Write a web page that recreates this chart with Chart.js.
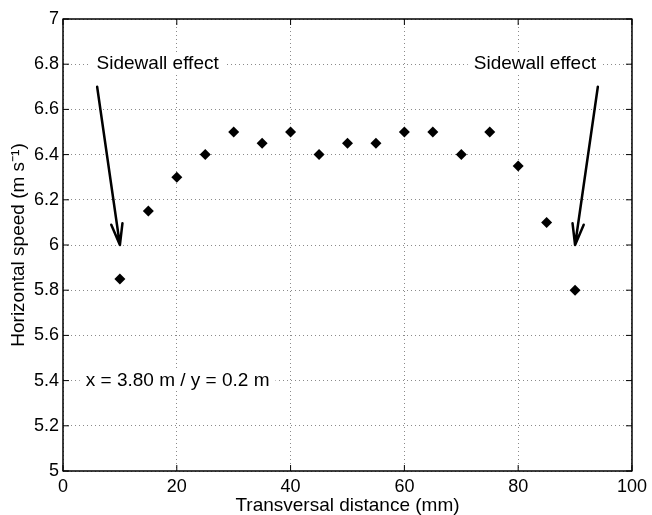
<!DOCTYPE html>
<html>
<head>
<meta charset="utf-8">
<script src="https://cdn.jsdelivr.net/npm/chart.js@4.4.0/dist/chart.umd.min.js"></script>
<style>
  html, body { margin: 0; padding: 0; background: #fff; }
  #wrap { width: 652px; height: 515px; }
</style>
</head>
<body>
<div id="wrap"><canvas id="speedChart" width="652" height="515"></canvas></div>
<script>
// horizontal speed across the channel
const distanceMm = [10, 15, 20, 25, 30, 35, 40, 45, 50, 55, 60, 65, 70, 75, 80, 85, 90];
const speedMs = [5.85, 6.15, 6.30, 6.40, 6.50, 6.45, 6.50, 6.40, 6.45, 6.45, 6.50, 6.50, 6.40, 6.50, 6.35, 6.10, 5.80];

const xTicks = [0, 20, 40, 60, 80, 100];
const xTickLabels = ['0', '20', '40', '60', '80', '100'];
const yTicks = [5, 5.2, 5.4, 5.6, 5.8, 6, 6.2, 6.4, 6.6, 6.8, 7];
const yTickLabels = ['5', '5.2', '5.4', '5.6', '5.8', '6', '6.2', '6.4', '6.6', '6.8', '7'];

// annotations (data coordinates)
const arrowFrom = [[6, 6.7], [94, 6.7]];
const arrowTo = [[10, 6.0], [90, 6.0]];
const noteText = ['Sidewall effect', 'Sidewall effect', 'x = 3.80 m / y = 0.2 m'];
const noteAt = [[5.9, 6.8], [72.2, 6.8], [4.0, 5.4]];

const FONT = '"Liberation Sans", Arial, Helvetica, sans-serif';
Chart.defaults.font.family = FONT;
Chart.defaults.color = '#000';

const matlabAxes = {
  id: 'matlabAxes',
  afterDatasetsDraw(chart) {
    const { ctx, chartArea: a, scales: { x, y } } = chart;
    ctx.save();

    // text notes, white background like the original
    ctx.font = '19px ' + FONT;
    ctx.textBaseline = 'middle';
    ctx.textAlign = 'left';
    noteText.forEach((t, i) => {
      const px = x.getPixelForValue(noteAt[i][0]);
      const py = y.getPixelForValue(noteAt[i][1]);
      const w = ctx.measureText(t).width;
      ctx.fillStyle = '#fff';
      ctx.fillRect(px - 6, py - 10, w + 12, 20);
      ctx.fillStyle = '#000';
      ctx.fillText(t, px, py);
    });

    // arrows
    ctx.strokeStyle = '#000';
    ctx.lineWidth = 2.5;
    ctx.lineCap = 'round';
    ctx.lineJoin = 'round';
    arrowFrom.forEach((f, i) => {
      const x0 = x.getPixelForValue(f[0]), y0 = y.getPixelForValue(f[1]);
      const x1 = x.getPixelForValue(arrowTo[i][0]), y1 = y.getPixelForValue(arrowTo[i][1]);
      const ang = Math.atan2(y1 - y0, x1 - x0);
      const head = 22, spread = 0.26;
      ctx.beginPath();
      ctx.moveTo(x0, y0);
      ctx.lineTo(x1, y1);
      ctx.moveTo(x1 - head * Math.cos(ang - spread), y1 - head * Math.sin(ang - spread));
      ctx.lineTo(x1, y1);
      ctx.lineTo(x1 - head * Math.cos(ang + spread), y1 - head * Math.sin(ang + spread));
      ctx.stroke();
    });

    // box and inward ticks
    ctx.lineWidth = 1.5;
    ctx.lineCap = 'butt';
    ctx.strokeRect(a.left, a.top, a.right - a.left, a.bottom - a.top);
    const tl = 6;
    ctx.lineWidth = 1;
    ctx.beginPath();
    xTicks.forEach((v) => {
      const px = x.getPixelForValue(v);
      ctx.moveTo(px, a.bottom); ctx.lineTo(px, a.bottom - tl);
      ctx.moveTo(px, a.top); ctx.lineTo(px, a.top + tl);
    });
    yTicks.forEach((v) => {
      const py = y.getPixelForValue(v);
      ctx.moveTo(a.left, py); ctx.lineTo(a.left + tl, py);
      ctx.moveTo(a.right, py); ctx.lineTo(a.right - tl, py);
    });
    ctx.stroke();
    ctx.restore();
  }
};

const gridStyle = { color: '#8a8a8a', lineWidth: 1, drawTicks: false, tickLength: 0 };

new Chart(document.getElementById('speedChart'), {
  type: 'scatter',
  data: {
    datasets: [{
      data: distanceMm.map((d, i) => ({ x: d, y: speedMs[i] })),
      pointStyle: 'rectRot',
      pointRadius: 5.5,
      pointHoverRadius: 5.5,
      backgroundColor: '#000',
      borderColor: '#000',
      borderWidth: 0
    }]
  },
  options: {
    responsive: false,
    devicePixelRatio: 1,
    animation: false,
    events: [],
    layout: { padding: { top: 19, right: 16, left: 0, bottom: 0 } },
    plugins: { legend: { display: false }, tooltip: { enabled: false } },
    scales: {
      x: {
        type: 'linear',
        min: 0,
        max: 100,
        afterBuildTicks: (s) => { s.ticks = xTicks.map((v) => ({ value: v })); },
        afterFit: (s) => { s.height = 44; },
        ticks: {
          font: { size: 18 },
          padding: 5,
          maxRotation: 0,
          callback: (v) => xTickLabels[xTicks.indexOf(v)]
        },
        grid: gridStyle,
        border: { display: false, dash: [1, 3] },
        title: {
          display: true,
          text: 'Transversal distance (mm)',
          font: { size: 19, lineHeight: 1 },
          padding: { top: 0, bottom: 0 }
        }
      },
      y: {
        type: 'linear',
        min: 5,
        max: 7,
        afterBuildTicks: (s) => { s.ticks = yTicks.map((v) => ({ value: v })); },
        afterFit: (s) => { s.width = 63; },
        ticks: {
          font: { size: 18 },
          padding: 4,
          callback: (v) => yTickLabels[yTicks.indexOf(v)]
        },
        grid: gridStyle,
        border: { display: false, dash: [1, 3] },
        title: {
          display: true,
          text: 'Horizontal speed (m s\u207B\u00B9)',
          font: { size: 19, lineHeight: 1 },
          padding: { top: 9, bottom: 0 }
        }
      }
    }
  },
  plugins: [matlabAxes]
});
</script>
</body>
</html>
